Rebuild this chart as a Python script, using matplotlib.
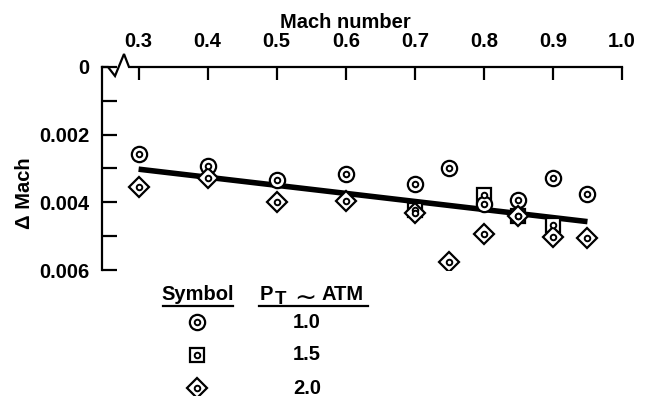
import matplotlib
matplotlib.use("Agg")
import matplotlib.pyplot as plt

plt.rcParams['font.family'] = ['Liberation Sans', 'DejaVu Sans']

# data
mach = [0.3, 0.4, 0.5, 0.6, 0.7, 0.75, 0.8, 0.85, 0.9, 0.95]
dmach_pt10 = [0.00256, 0.00292, 0.00333, 0.00316, 0.00346, 0.00299, 0.00405, 0.00393, 0.00329, 0.00376]
mach_pt15 = [0.7, 0.8, 0.85, 0.9]
dmach_pt15 = [0.00422, 0.00378, 0.00440, 0.00467]
dmach_pt20 = [0.00355, 0.00328, 0.00400, 0.00395, 0.00433, 0.00575, 0.00493, 0.00439, 0.00503, 0.00506]
fit_mach = [0.3, 0.95]
fit_dmach = [0.00302, 0.00457]

xticks = [0.3, 0.4, 0.5, 0.6, 0.7, 0.8, 0.9, 1.0]
xticklabels = ['0.3', '0.4', '0.5', '0.6', '0.7', '0.8', '0.9', '1.0']
yticks = [0, 0.002, 0.004, 0.006]
yticklabels = ['0', '0.002', '0.004', '0.006']
yminor = [0.001, 0.003, 0.005]
legend_values = ['1.0', '1.5', '2.0']

FS = 14.5
W, H = 649, 396
fig = plt.figure(figsize=(W / 100, H / 100), dpi=100)
# axes box in pixels: left 102, right 622, top 67, bottom 270
ax = fig.add_axes([102 / W, 1 - 270 / H, 520 / W, 203 / H])

ax.set_xlim(0.247, 1.0)
ax.set_ylim(0.006, 0)

# fitted line
ax.plot(fit_mach, fit_dmach, color='black', lw=4, solid_capstyle='butt', zorder=2)

SIZES = {'o': 11, 's': 10, 'D': 10.5}


def sym(axis, x, y, marker):
    axis.plot(x, y, linestyle='none', marker=marker, ms=SIZES[marker], mfc='white',
              mec='black', mew=1.6, zorder=3)
    axis.plot(x, y, linestyle='none', marker='o', ms=4, mfc='white', mec='black',
              mew=1.4, zorder=4)


sym(ax, mach_pt15, dmach_pt15, 's')
sym(ax, mach, dmach_pt10, 'o')
sym(ax, mach, dmach_pt20, 'D')

# spines
for s in ['top', 'right', 'bottom']:
    ax.spines[s].set_visible(False)
ax.spines['left'].set_linewidth(1.6)

# top axis drawn by hand with the break mark
bx = [0, 6 / 520, 13 / 520, 22 / 520, 27 / 520, 1]
by = [1, 1, 1 - 9 / 203, 1 + 13 / 203, 1, 1]
ax.plot(bx, by, transform=ax.transAxes, color='black', lw=1.6, clip_on=False,
        solid_joinstyle='miter')

ax.xaxis.tick_top()
ax.set_xticks(xticks)
ax.set_xticklabels(xticklabels)
ax.tick_params(axis='x', direction='in', length=9, width=1.6, pad=11.5,
               labelsize=FS)
ax.set_yticks(yticks)
ax.set_yticklabels(yticklabels)
ax.set_yticks(yminor, minor=True)
ax.tick_params(axis='y', which='both', direction='in', length=11, width=1.6,
               pad=9, labelsize=FS)
ax.tick_params(axis='y', which='minor', labelleft=False)
for lab in ax.get_xticklabels() + ax.get_yticklabels():
    lab.set_fontweight('bold')

fig.text(345 / W, 1 - 22 / H, 'Mach number', ha='center', va='center',
         fontsize=FS, fontweight='bold')
fig.text(25 / W, 1 - 193 / H, '\u0394 Mach', ha='center', va='center',
         rotation=90, fontsize=FS, fontweight='bold')

# legend table in pixel coordinates
lg = fig.add_axes([0, 0, 1, 1])
lg.set_xlim(0, W)
lg.set_ylim(H, 0)
lg.axis('off')
lg.text(198, 300, 'Symbol', ha='center', va='baseline', fontsize=FS, fontweight='bold')
lg.plot([163, 233], [306, 306], color='black', lw=1.6)
lg.text(260, 300, 'P', ha='left', va='baseline', fontsize=FS, fontweight='bold')
lg.text(275, 304, 'T', ha='left', va='baseline', fontsize=FS - 1, fontweight='bold')
lg.text(305, 298, '\u223c', ha='center', va='center', fontsize=19,
        family='DejaVu Sans')
lg.text(322, 300, 'ATM', ha='left', va='baseline', fontsize=FS, fontweight='bold')
lg.plot([259, 368], [306, 306], color='black', lw=1.6)
rows_y = [322, 355, 388]
for m, yy, val in zip(['o', 's', 'D'], rows_y, legend_values):
    sym(lg, [197], [yy], m)
    lg.text(307, yy, val, ha='center', va='center', fontsize=FS, fontweight='bold')

fig.savefig('out.png', dpi=100)
